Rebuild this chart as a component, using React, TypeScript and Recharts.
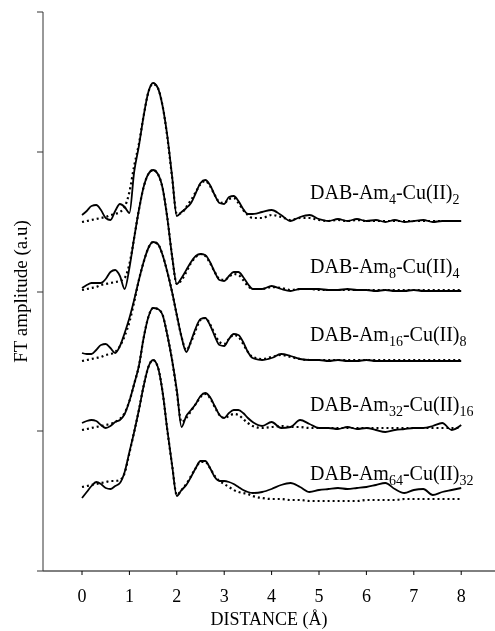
import React from 'react';
import { LineChart, Line, XAxis, YAxis, ReferenceDot } from 'recharts';

// Distance (Å)
const distance = [
  0, 0.1, 0.2, 0.3, 0.4, 0.5, 0.6, 0.7, 0.8, 0.9, 1.0, 1.1, 1.2, 1.3, 1.4, 1.5, 1.6, 1.7, 1.8, 1.9,
  2.0, 2.1, 2.2, 2.3, 2.4, 2.5, 2.6, 2.7, 2.8, 2.9, 3.0, 3.1, 3.2, 3.3, 3.4, 3.5, 3.6,
  3.8, 4.0, 4.2, 4.4, 4.6, 4.8, 5.0, 5.2, 5.4, 5.6, 5.8, 6.0, 6.2, 6.4, 6.6, 6.8, 7.0, 7.2, 7.4, 7.6, 7.8, 8.0,
];

// FT amplitude (a.u., stacked with offsets) — experimental (solid) and fit (dotted)
const am4Exp = [
  356, 360, 365, 366, 361, 353, 351, 360, 367, 364, 358, 399, 425, 455, 479, 488, 483, 465, 435, 395,
  355, 359, 363, 368, 378, 388, 391, 386, 376, 368, 367, 374, 375, 370, 362, 357, 357,
  359, 361, 356, 350, 354, 356, 352, 350, 352, 350, 352, 350, 351, 349, 351, 349, 350, 351, 349, 350, 350, 350,
];
const am4Fit = [
  349, 350, 351, 352, 353, 354, 356, 357, 359, 364, 379, 405, 427, 455, 479, 487, 483, 465, 434, 394,
  357, 358, 364, 371, 379, 387, 390, 385, 376, 369, 368, 372, 373, 368, 361, 356, 353,
  353, 356, 354, 351, 353, 353, 351, 350, 351, 350, 351, 350, 350, 350, 350, 350, 350, 350, 350, 350, 350, 350,
];
const am8Exp = [
  283, 286, 288, 288, 288, 292, 299, 301, 295, 282, 303, 333, 361, 384, 397, 401, 397, 383, 353, 315,
  287, 293, 301, 309, 315, 317, 316, 309, 299, 291, 290, 295, 299, 299, 294, 287, 282,
  282, 285, 282, 280, 282, 282, 282, 281, 281, 282, 281, 281, 280, 281, 280, 280, 281, 280, 280, 280, 280, 280,
];
const am8Fit = [
  281, 282, 283, 284, 286, 287, 288, 289, 290, 293, 307, 333, 361, 384, 397, 401, 397, 383, 353, 315,
  287, 291, 299, 308, 314, 317, 315, 308, 299, 292, 291, 294, 297, 296, 291, 285, 282,
  282, 284, 283, 281, 282, 282, 281, 281, 281, 281, 281, 281, 281, 281, 281, 281, 281, 281, 281, 281, 281, 281,
];
const am16Exp = [
  218, 217, 217, 221, 226, 227, 223, 218, 225, 238, 253, 271, 291, 309, 323, 329, 327, 316, 299, 279,
  256, 234, 219, 230, 243, 252, 253, 246, 235, 226, 225, 232, 237, 236, 229, 219, 213,
  211, 213, 217, 215, 212, 211, 211, 210, 211, 210, 210, 211, 210, 210, 210, 210, 210, 210, 210, 210, 210, 210,
];
const am16Fit = [
  210, 211, 212, 213, 214, 216, 217, 219, 225, 235, 249, 269, 291, 309, 323, 329, 327, 316, 299, 279,
  256, 234, 221, 229, 241, 251, 253, 247, 237, 229, 227, 232, 236, 234, 227, 219, 214,
  212, 214, 216, 214, 212, 211, 211, 211, 211, 211, 211, 211, 211, 211, 211, 211, 211, 211, 211, 211, 211, 211,
];
const am32Exp = [
  148, 150, 151, 150, 146, 143, 145, 149, 151, 157, 170, 187, 205, 233, 254, 263, 262, 256, 236, 211,
  181, 144, 155, 161, 167, 175, 178, 174, 165, 156, 153, 158, 161, 161, 158, 153, 149,
  145, 149, 143, 144, 151, 147, 143, 143, 142, 144, 142, 143, 141, 139, 141, 142, 143, 143, 145, 148, 141, 146,
];
const am32Fit = [
  141, 142, 143, 144, 145, 146, 147, 149, 152, 158, 170, 187, 205, 233, 254, 263, 262, 256, 236, 211,
  179, 149, 153, 160, 167, 174, 177, 173, 164, 156, 153, 155, 157, 156, 152, 148, 145,
  143, 144, 145, 144, 144, 143, 143, 143, 143, 143, 143, 143, 143, 143, 143, 143, 143, 143, 143, 143, 143, 143,
];
const am64Exp = [
  73, 79, 85, 89, 87, 83, 82, 85, 88, 99, 119, 139, 161, 185, 204, 211, 204, 179, 141, 106,
  75, 81, 86, 94, 103, 110, 110, 103, 94, 90, 90, 89, 87, 84, 81, 79, 78,
  79, 82, 86, 88, 84, 79, 81, 82, 83, 82, 83, 84, 86, 88, 82, 78, 81, 82, 76, 79, 81, 83,
];
const am64Fit = [
  84, 85, 86, 87, 88, 89, 90, 90, 91, 98, 118, 139, 161, 185, 204, 211, 204, 179, 141, 106,
  76, 81, 87, 95, 103, 109, 109, 103, 95, 90, 87, 84, 81, 79, 78, 77, 75,
  73, 72, 72, 71, 71, 70, 70, 70, 70, 70, 70, 71, 71, 71, 71, 72, 72, 72, 72, 72, 72, 72,
];

const xTicks = [0, 1, 2, 3, 4, 5, 6, 7, 8];
const yTicks = [0, 140, 279, 419, 559];

const generations = ['4', '8', '16', '32', '64'];
const copperCounts = ['2', '4', '8', '16', '32'];
const seriesKeys = ['am4', 'am8', 'am16', 'am32', 'am64'];

const rows = distance.map((d, i) => ({
  d,
  am4Exp: am4Exp[i],
  am4Fit: am4Fit[i],
  am8Exp: am8Exp[i],
  am8Fit: am8Fit[i],
  am16Exp: am16Exp[i],
  am16Fit: am16Fit[i],
  am32Exp: am32Exp[i],
  am32Fit: am32Fit[i],
  am64Exp: am64Exp[i],
  am64Fit: am64Fit[i],
}));

const FONT = '"Liberation Serif", "Times New Roman", serif';
const labelX = 4.81;
const labelY = [372, 298, 230, 160, 91];

const makeSeriesLabel = (gen: string, cu: string) => (props: any) => {
  const vb = props.viewBox || {};
  const x = vb.x ?? 0;
  const y = vb.y ?? 0;
  return (
    <text x={x} y={y} fontFamily={FONT} fontSize={20} fill="#000" style={{ fill: '#000' }}>
      DAB-Am
      <tspan dy={5} fontSize={14}>{gen}</tspan>
      <tspan dy={-5}>-Cu(II)</tspan>
      <tspan dy={5} fontSize={14}>{cu}</tspan>
    </text>
  );
};

const YTitle = (props: any) => {
  const vb = props.viewBox || { x: 0, y: 12, width: 43, height: 559 };
  const cx = vb.x + 27;
  const cy = vb.y + vb.height / 2;
  return (
    <text
      x={cx}
      y={cy}
      transform={`rotate(-90 ${cx} ${cy})`}
      textAnchor="middle"
      fontFamily={FONT}
      fontSize={19}
      fill="#000"
      style={{ fill: '#000' }}
    >
      FT amplitude (a.u)
    </text>
  );
};

const XTitle = (props: any) => {
  const vb = props.viewBox || { x: 43, y: 571, width: 452, height: 60 };
  const cx = vb.x + vb.width / 2;
  const cy = vb.y + 54;
  return (
    <text x={cx} y={cy} textAnchor="middle" fontFamily={FONT} fontSize={18} fill="#000" style={{ fill: '#000' }}>
      DISTANCE (Å)
    </text>
  );
};

export default function App() {
  return (
    <div
      style={{
        position: 'absolute',
        left: 0,
        top: 0,
        width: 495,
        height: 631,
        background: '#fff',
        willChange: 'transform',
      }}
    >
      <LineChart width={495} height={631} data={rows} margin={{ top: 12, right: 0, bottom: 0, left: 0 }}>
        <XAxis
          type="number"
          dataKey="d"
          domain={[-0.823, 8.713]}
          ticks={xTicks}
          allowDataOverflow
          height={60}
          tickSize={4}
          tickMargin={14}
          stroke="#000"
          tick={{ fontSize: 18, fontFamily: FONT, fill: '#000' }}
          label={{ content: XTitle }}
        />
        <YAxis
          type="number"
          domain={[0, 559]}
          ticks={yTicks}
          width={43}
          tick={{ fontSize: 0, fill: 'none' }}
          tickFormatter={() => ''}
          tickLine={{ stroke: '#333' }}
          tickSize={6}
          stroke="#333"
          allowDataOverflow
          label={{ content: YTitle }}
        />
        {seriesKeys.map((k) => (
          <Line
            key={k + 'Fit'}
            dataKey={k + 'Fit'}
            type="monotone"
            stroke="#000"
            strokeWidth={2.2}
            strokeDasharray="2 3"
            dot={false}
            isAnimationActive={false}
          />
        ))}
        {seriesKeys.map((k) => (
          <Line
            key={k + 'Exp'}
            dataKey={k + 'Exp'}
            type="monotone"
            stroke="#000"
            strokeWidth={1.8}
            dot={false}
            isAnimationActive={false}
          />
        ))}
        {generations.map((g, i) => (
          <ReferenceDot
            key={g}
            x={labelX}
            y={labelY[i]}
            r={0}
            fill="none"
            stroke="none"
            label={{ content: makeSeriesLabel(g, copperCounts[i]) }}
          />
        ))}
      </LineChart>
    </div>
  );
}
